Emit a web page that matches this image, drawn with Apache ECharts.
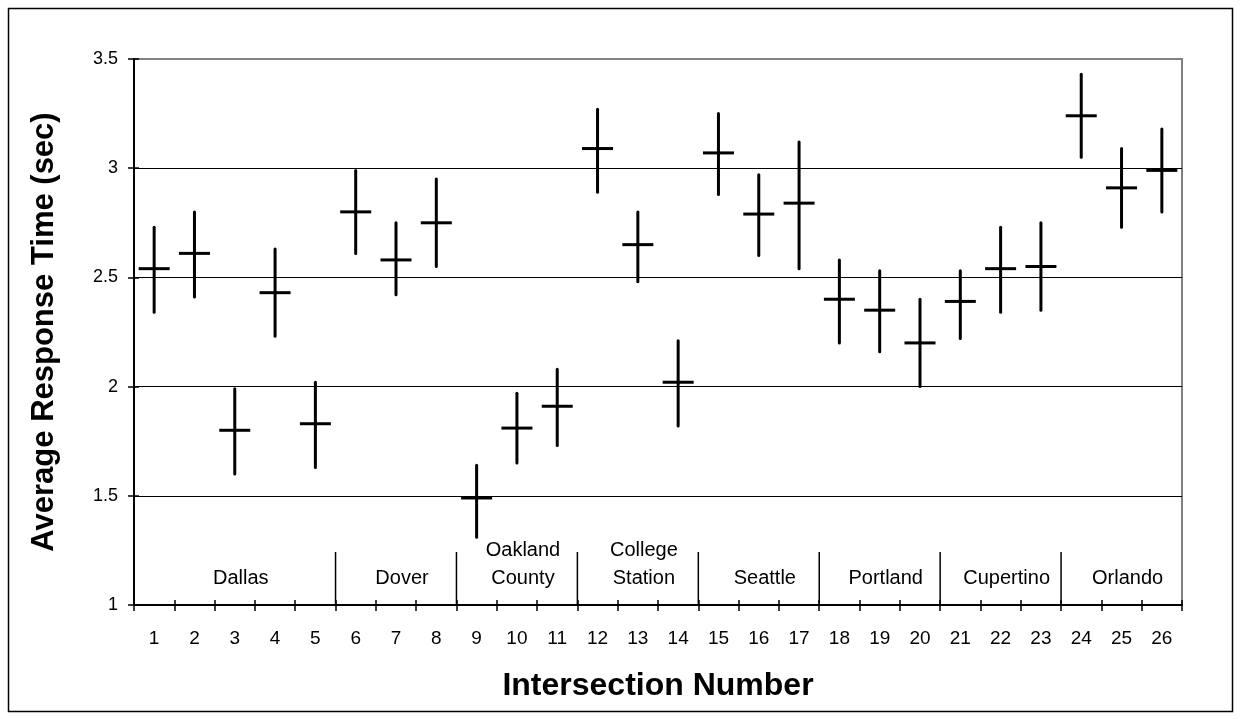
<!DOCTYPE html>
<html>
<head>
<meta charset="utf-8">
<script src="https://cdn.jsdelivr.net/npm/echarts@6/dist/echarts.min.js"></script>
<style>
  html, body { margin: 0; padding: 0; background: #fff; }
  #chart { width: 1241px; height: 719px; }
</style>
</head>
<body>
<div id="chart"></div>
<script>
// Intersection numbers along the x axis
const intersections = ['1','2','3','4','5','6','7','8','9','10','11','12','13',
  '14','15','16','17','18','19','20','21','22','23','24','25','26'];

// Average response time (sec) and its low / high range per intersection
const meanTimes = [2.54, 2.61, 1.80, 2.43, 1.83, 2.80, 2.58, 2.75, 1.49, 1.81, 1.91, 3.09, 2.65,
  2.02, 3.07, 2.79, 2.84, 2.40, 2.35, 2.20, 2.39, 2.54, 2.55, 3.24, 2.91, 2.99];
const lowTimes = [2.34, 2.41, 1.60, 2.23, 1.63, 2.61, 2.42, 2.55, 1.31, 1.65, 1.73, 2.89, 2.48,
  1.82, 2.88, 2.60, 2.54, 2.20, 2.16, 2.00, 2.22, 2.34, 2.35, 3.05, 2.73, 2.80];
const highTimes = [2.73, 2.80, 1.99, 2.63, 2.02, 2.99, 2.75, 2.95, 1.64, 1.97, 2.08, 3.27, 2.80,
  2.21, 3.25, 2.97, 3.12, 2.58, 2.53, 2.40, 2.53, 2.73, 2.75, 3.43, 3.09, 3.18];

// Cities and how many consecutive intersections belong to each
const cityNames = ['Dallas', 'Dover', 'Oakland\nCounty', 'College\nStation', 'Seattle',
  'Portland', 'Cupertino', 'Orlando'];
const citySizes = [5, 3, 3, 3, 3, 3, 3, 3];

// Y axis ticks
const yTicks = { min: 1, max: 3.5, step: 0.5 };

const FONT = "'Liberation Sans', Arial, sans-serif";

// Build the city label positions and separators (on a continuous 0.5..26.5 scale)
const cityLabels = [];
const citySeparators = [];
let start = 1;
citySizes.forEach((n, i) => {
  const end = start + n - 1;
  cityLabels.push([(start + end) / 2 + 0.15, 1, cityNames[i]]);
  if (i < citySizes.length - 1) citySeparators.push([end + 0.5, 1]);
  start = end + 1;
});

const rangeData = intersections.map((c, i) => [i, lowTimes[i], meanTimes[i], highTimes[i]]);

const chart = echarts.init(document.getElementById('chart'), null, { renderer: 'canvas' });

chart.setOption({
  animation: false,
  backgroundColor: '#fff',
  textStyle: { fontFamily: FONT },
  graphic: [{
    type: 'rect',
    shape: { x: 8.5, y: 8.5, width: 1224, height: 703 },
    style: { fill: 'none', stroke: '#000', lineWidth: 1.5 },
    silent: true
  }],
  grid: {
    left: 134, right: 59, top: 59, bottom: 114,
    show: true, borderColor: '#808080', borderWidth: 2, backgroundColor: 'transparent'
  },
  xAxis: [{
    type: 'category',
    data: intersections,
    boundaryGap: true,
    axisLine: { lineStyle: { color: '#000', width: 2 } },
    axisTick: { show: true, length: 6, alignWithLabel: false, lineStyle: { color: '#000', width: 1.5 } },
    axisLabel: { interval: 0, color: '#000', fontSize: 19, fontFamily: FONT, margin: 24 },
    splitLine: { show: false },
    name: 'Intersection Number',
    nameLocation: 'middle',
    nameGap: 65,
    nameTextStyle: { color: '#000', fontSize: 32, fontWeight: 'bold', fontFamily: FONT }
  }, {
    type: 'value',
    min: 0.5, max: 26.5,
    show: false
  }, {
    type: 'category',
    data: intersections,
    boundaryGap: true,
    position: 'bottom',
    axisLine: { show: false },
    axisTick: { show: true, inside: true, length: 5, lineStyle: { color: '#000', width: 1.5 } },
    axisLabel: { show: false },
    splitLine: { show: false }
  }],
  yAxis: [{
    type: 'value',
    min: yTicks.min, max: yTicks.max, interval: yTicks.step,
    axisLine: { show: true, lineStyle: { color: '#000', width: 2 } },
    axisTick: { show: true, length: 6, lineStyle: { color: '#000', width: 1.5 } },
    axisLabel: { color: '#000', fontSize: 18, fontFamily: FONT, margin: 16 },
    splitLine: { show: true, showMinLine: false, showMaxLine: false, lineStyle: { color: '#000', width: 1 } },
    name: 'Average Response Time (sec)',
    nameLocation: 'middle',
    nameRotate: 90,
    nameGap: 74,
    nameTextStyle: { color: '#000', fontSize: 31, fontWeight: 'bold', fontFamily: FONT }
  }, {
    type: 'value',
    min: yTicks.min, max: yTicks.max, interval: yTicks.step,
    position: 'left',
    axisLine: { show: false },
    axisTick: { show: true, inside: true, length: 5, lineStyle: { color: '#000', width: 1.5 } },
    axisLabel: { show: false },
    splitLine: { show: false }
  }],
  series: [{
    // city separators rising from the x axis
    type: 'custom',
    xAxisIndex: 1, yAxisIndex: 0,
    data: citySeparators,
    silent: true,
    z: 3,
    renderItem: function (params, api) {
      const p = api.coord([api.value(0), api.value(1)]);
      return {
        type: 'line',
        shape: { x1: p[0], y1: p[1], x2: p[0], y2: p[1] - 53 },
        style: { stroke: '#000', lineWidth: 1.5 }
      };
    }
  }, {
    // city names
    type: 'custom',
    xAxisIndex: 1, yAxisIndex: 0,
    data: cityLabels,
    silent: true,
    z: 3,
    renderItem: function (params, api) {
      const p = api.coord([api.value(0), api.value(1)]);
      return {
        type: 'text',
        x: p[0], y: p[1] - 13,
        style: {
          text: cityLabels[params.dataIndex][2],
          fill: '#000',
          font: '20px ' + FONT,
          align: 'center',
          verticalAlign: 'bottom',
          lineHeight: 28
        }
      };
    }
  }, {
    // low-high range with mean marker for each intersection
    type: 'custom',
    xAxisIndex: 0, yAxisIndex: 0,
    data: rangeData,
    encode: { x: 0, y: [1, 2, 3] },
    z: 4,
    renderItem: function (params, api) {
      const x = api.value(0);
      const low = api.coord([x, api.value(1)]);
      const mean = api.coord([x, api.value(2)]);
      const high = api.coord([x, api.value(3)]);
      return {
        type: 'group',
        children: [{
          type: 'line',
          shape: { x1: low[0], y1: low[1], x2: high[0], y2: high[1] },
          style: { stroke: '#000', lineWidth: 3, lineCap: 'round' }
        }, {
          type: 'line',
          shape: { x1: mean[0] - 15.5, y1: mean[1], x2: mean[0] + 15.5, y2: mean[1] },
          style: { stroke: '#000', lineWidth: 3 }
        }]
      };
    }
  }]
});
</script>
</body>
</html>
